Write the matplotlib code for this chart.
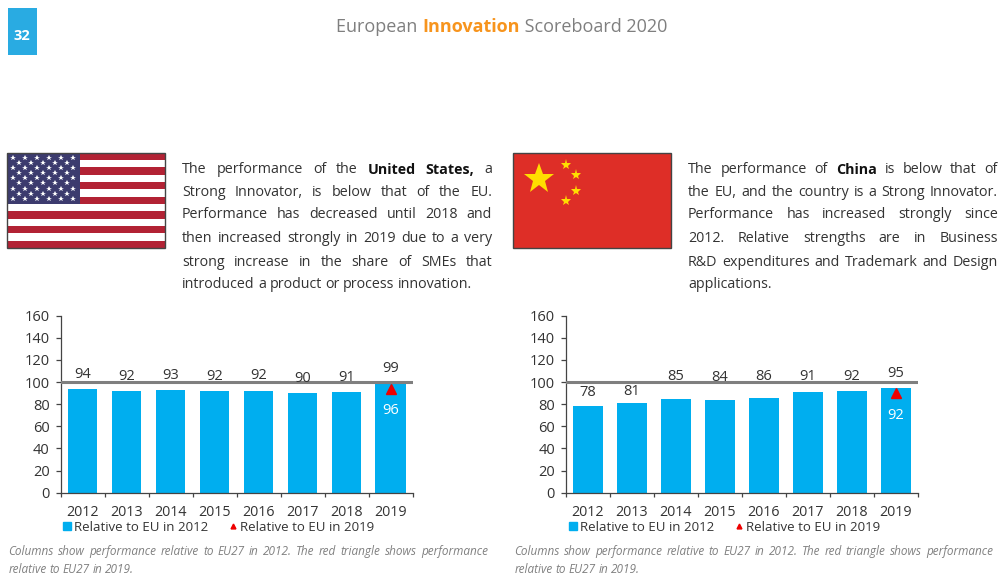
import matplotlib
matplotlib.use("Agg")
import matplotlib.pyplot as plt
from matplotlib.lines import Line2D
from matplotlib.patches import Rectangle
from matplotlib.transforms import offset_copy

plt.rcParams["font.family"] = ["Open Sans", "DejaVu Sans"]

# ── Data ──────────────────────────────────────────────
years = ["2012", "2013", "2014", "2015", "2016", "2017", "2018", "2019"]
yticks = [0, 20, 40, 60, 80, 100, 120, 140, 160]

us_2012 = [94, 92, 93, 92, 92, 90, 91, 99]
us_2019 = 96
cn_2012 = [78, 81, 85, 84, 86, 91, 92, 95]
cn_2019 = 92
reference = 100

legend_bar = "Relative to EU in 2012"
legend_tri = "Relative to EU in 2019"

us_text = [
    "The performance of the United States, a",
    "Strong Innovator, is below that of the EU.",
    "Performance has decreased until 2018 and",
    "then increased strongly in 2019 due to a very",
    "strong increase in the share of SMEs that",
    "introduced a product or process innovation.",
]
cn_text = [
    "The performance of China is below that of",
    "the EU, and the country is a Strong Innovator.",
    "Performance has increased strongly since",
    "2012. Relative strengths are in Business",
    "R&D expenditures and Trademark and Design",
    "applications.",
]
caption = [
    "Columns show performance relative to EU27 in 2012. The red triangle shows performance",
    "relative to EU27 in 2019.",
]
bold_words = {"United", "States,", "China"}

# ── Colours ───────────────────────────────────────────
BLUE = "#00AEEF"
DARK = "#333333"
GREY = "#7F7F7F"
W, H = 1000, 574

fig = plt.figure(figsize=(W / 100, H / 100), dpi=100, facecolor="white")
page = fig.add_axes([0, 0, 1, 1])
page.set_xlim(0, W)
page.set_ylim(H, 0)
page.axis("off")
renderer = fig.canvas.get_renderer()


def word_width(word, **kw):
    t = page.text(0, 0, word, **kw)
    w = t.get_window_extent(renderer).width
    t.remove()
    return w


def justified(lines, x0, x1, y_list, size, color, style="normal", last_free=True):
    for i, line in enumerate(lines):
        words = line.split()
        kws = [dict(fontsize=size, style=style,
                    fontweight="bold" if w in bold_words else "normal") for w in words]
        widths = [word_width(w, **k) for w, k in zip(words, kws)]
        if i == len(lines) - 1 and last_free:
            gap = word_width("n", fontsize=size, style=style) * 0.4
        else:
            gap = (x1 - x0 - sum(widths)) / (len(words) - 1)
        x = x0
        for w, k, wd in zip(words, kws, widths):
            page.text(x, y_list[i], w, color="#111111" if k["fontweight"] == "bold" else color,
                      va="center", ha="left", **k)
            x += wd + gap


def draw_chart(x0, x1, values, tri_value, label_offsets, tri_label_offset):
    y_top, y_bot = 315.7, 492.7
    ax = fig.add_axes([x0 / W, 1 - y_bot / H, (x1 - x0) / W, (y_bot - y_top) / H])
    ax.patch.set_alpha(0)
    pos = list(range(len(years)))
    widths = [0.67] * 7 + [0.70]
    ax.bar(pos, values, width=widths, color=BLUE, zorder=2)
    ax.axhline(reference, color=GREY, lw=2.2, zorder=3)
    shifted = offset_copy(ax.transData, fig=fig, x=0, y=-2, units="dots")
    ax.plot([pos[-1]], [tri_value], marker="^", ms=6.5, color="#EE0000", ls="none",
            zorder=4, transform=shifted)
    ax.set_xlim(-0.5, 7.5)
    ax.set_ylim(0, 160)
    ax.set_yticks(yticks)
    ax.set_xticks(pos)
    ax.set_xticklabels(years)
    ax.set_xticks([p - 0.5 for p in pos] + [7.5], minor=True)
    ax.tick_params(axis="x", which="major", length=0, pad=9, labelsize=10.3, labelcolor=DARK)
    ax.tick_params(axis="x", which="minor", length=3, width=0.9, color="#444444")
    ax.tick_params(axis="y", length=3.4, width=0.9, color="#444444", pad=4.5,
                   labelsize=10.5, labelcolor=DARK)
    ax.spines[["top", "right"]].set_visible(False)
    ax.spines[["left", "bottom"]].set_color("#444444")
    ax.spines[["left", "bottom"]].set_linewidth(0.9)
    for p, v, off in zip(pos, values, label_offsets):
        ax.text(p, v + off, str(v), ha="center", va="center_baseline", fontsize=10.5,
                color=DARK, zorder=5)
    ax.text(pos[-1], tri_value - tri_label_offset, str(tri_value), ha="center",
            va="center_baseline", fontsize=10.5, color="white", zorder=5)
    handles = [
        Line2D([], [], marker="s", ms=5.8, color=BLUE, ls="none"),
        Line2D([], [], marker="^", ms=3.5, color="#EE0000", ls="none"),
    ]
    ax.legend(handles, [legend_bar, legend_tri], ncol=2, frameon=False, fontsize=9.5,
              loc="center", bbox_to_anchor=(0.45, -0.195), handlelength=0.6,
              handletextpad=0.2, columnspacing=1.6, labelcolor=DARK)


# ── Page header ───────────────────────────────────────
page.add_patch(Rectangle((8, 8), 28.5, 47, color="#29ABE2", lw=0))
page.text(22.3, 35.5, "32", color="white", fontsize=10.5, fontweight="bold", ha="center", va="center")

header = [("European ", "#7F7F7F", "normal"), ("Innovation", "#F7941D", "bold"),
          (" Scoreboard 2020", "#7F7F7F", "normal")]
hx = 336
for part, col, wt in header:
    page.text(hx, 26.5, part, color=col, fontweight=wt, fontsize=13, va="center", ha="left")
    hx += word_width(part.replace(" ", "\u00a0"), fontsize=13, fontweight=wt)

# ── US flag ───────────────────────────────────────────
fx0, fx1, fy0, fy1 = 7, 165, 152.5, 248
stripe = (fy1 - fy0) / 13
page.add_patch(Rectangle((fx0, fy0), fx1 - fx0, fy1 - fy0, color="white", lw=0, zorder=1))
for i in range(0, 13, 2):
    page.add_patch(Rectangle((fx0, fy0 + i * stripe), fx1 - fx0, stripe, color="#B22234", lw=0, zorder=1))
page.add_patch(Rectangle((fx0, fy0), 73, 7 * stripe, color="#3C3B6E", lw=0, zorder=2))
star_x, star_y = [], []
for row in range(9):
    n = 6 if row % 2 == 0 else 5
    for col in range(n):
        star_x.append(fx0 + 6.3 + col * 12 + (6 if row % 2 else 0))
        star_y.append(fy0 + 5.7 + row * 5.05)
page.plot(star_x, star_y, ls="none", marker="*", ms=4.2, color="white", mew=0, zorder=3)
page.add_patch(Rectangle((fx0, fy0), fx1 - fx0, fy1 - fy0, fill=False, ec="#444444", lw=1, zorder=4))

# ── China flag ────────────────────────────────────────
page.add_patch(Rectangle((513, 152.5), 158, 95.5, fc="#DE2E27", ec="#444444", lw=1, zorder=1))
page.plot([539.3], [178.5], ls="none", marker="*", ms=23, color="#FFDE00", mew=0, zorder=2)
page.plot([566, 576.3, 576.3, 566], [164.5, 175, 190.5, 201], ls="none", marker="*", ms=8,
          color="#FFDE00", mew=0, zorder=2)

# ── Text blocks ───────────────────────────────────────
body_y = [169.5, 192, 215, 239, 262, 285]
justified(us_text, 182, 492, body_y, 10.3, DARK)
justified(cn_text, 688, 998, body_y, 10.3, DARK)

caption_y = [551.5, 569.5]
justified(caption, 8.5, 488, caption_y, 8.5, "#808080", style="italic")
justified(caption, 514.5, 993, caption_y, 8.5, "#808080", style="italic")

# ── Charts ────────────────────────────────────────────
draw_chart(60.5, 412.5, us_2012, us_2019, [15, 15, 15, 15, 16, 15, 15, 15], 20)
draw_chart(566, 918, cn_2012, cn_2019, [14, 12, 22, 22, 21, 16, 15, 15], 20)

fig.savefig("out.png", dpi=100)
